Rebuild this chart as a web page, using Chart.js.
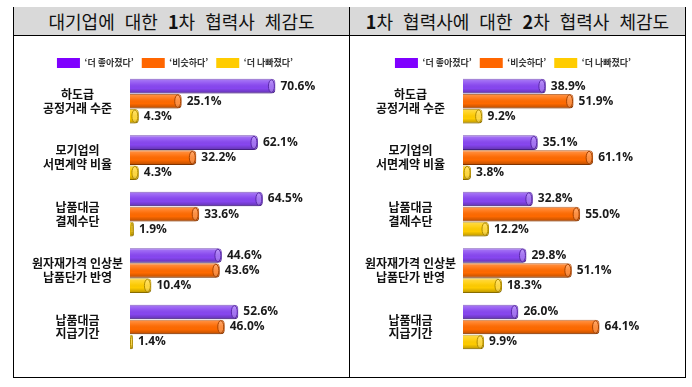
<!DOCTYPE html>
<html lang="ko">
<head>
<meta charset="utf-8">
<script src="https://cdn.jsdelivr.net/npm/chart.js@4"></script>
<style>
  html, body { margin: 0; padding: 0; background: #fff; }
  body { width: 692px; height: 387px; position: relative; overflow: hidden; }
  .frame { position: absolute; left: 13px; top: 7px; width: 671px; height: 369px; border: 1px solid #000; }
  .head { position: absolute; top: 7px; height: 28px; background: #d9d9d9; border-bottom: 1px solid #000;
          font: 400 18px "Noto Sans CJK KR", sans-serif; word-spacing: 5px; color: #111;
          text-align: center; line-height: 28px; white-space: nowrap; }
  .head b { font-weight: 700; }
  .divider { position: absolute; left: 349px; top: 7px; width: 1px; height: 370px; background: #000; }
  .box { position: absolute; top: 36px; height: 340px; }
</style>
</head>
<body>
<div class="frame"></div>
<div class="head" style="left:14px;width:335px;">대기업에 대한 <b>1</b>차 협력사 체감도</div>
<div class="head" style="left:350px;width:335px;"><b>1</b>차 협력사에 대한 <b>2</b>차 협력사 체감도</div>
<div class="divider"></div>
<div class="box" style="left:14px;width:335px;"><canvas id="leftChart" width="335" height="340"></canvas></div>
<div class="box" style="left:350px;width:335px;"><canvas id="rightChart" width="335" height="340"></canvas></div>
<script>
'use strict';

const CATEGORIES = [
    ['하도급', '공정거래 수준'],
    ['모기업의', '서면계약 비율'],
    ['납품대금', '결제수단'],
    ['원자재가격 인상분', '납품단가 반영'],
    ['납품대금', '지급기간'],
];
const SERIES = ['‘더 좋아졌다’', '‘비슷하다’', '‘더 나빠졌다’'];

// 대기업에 대한 1차 협력사 체감도
const TIER1_BETTER = [70.6, 62.1, 64.5, 44.6, 52.6];
const TIER1_SAME   = [25.1, 32.2, 33.6, 43.6, 46.0];
const TIER1_WORSE  = [4.3, 4.3, 1.9, 10.4, 1.4];

// 1차 협력사에 대한 2차 협력사 체감도
const TIER2_BETTER = [38.9, 35.1, 32.8, 29.8, 26.0];
const TIER2_SAME   = [51.9, 61.1, 55.0, 51.1, 64.1];
const TIER2_WORSE  = [9.2, 3.8, 12.2, 18.3, 9.9];

const FILLS   = ['#8746f0', '#ff6a00', '#ffcc00'];
const EDGES   = ['#5a2aa8', '#a84300', '#b08c00'];
const LEGENDS = ['#7f00ff', '#ff6600', '#ffcc00'];

const KR_FONT = '"Noto Sans CJK KR", sans-serif';

/* ── pull the plot a bit closer to the legend ───────── */
const legendGap = {
    id: 'legendGap',
    beforeInit(chart) {
        const fit = chart.legend.fit;
        chart.legend.fit = function () {
            fit.call(this);
            this.height -= 5;
        };
    }
};

/* ── cylinder shading over each bar ─────────────────── */
const cylinder = {
    id: 'cylinder',
    afterDatasetsDraw(chart) {
        const ctx = chart.ctx;
        chart.data.datasets.forEach((ds, i) => {
            chart.getDatasetMeta(i).data.forEach(bar => {
                const x0 = bar.base, x1 = bar.x, h = bar.height, y0 = bar.y - h / 2;
                if (x1 - x0 < 1) return;
                const r = Math.min(4, (x1 - x0) / 2);
                ctx.save();
                ctx.beginPath();
                ctx.roundRect(x0, y0, x1 - x0, h, [0, r, r, 0]);
                ctx.clip();
                const g = ctx.createLinearGradient(0, y0, 0, y0 + h);
                g.addColorStop(0, 'rgba(255,255,255,0.30)');
                g.addColorStop(0.35, 'rgba(255,255,255,0.08)');
                g.addColorStop(0.65, 'rgba(0,0,0,0)');
                g.addColorStop(1, 'rgba(0,0,0,0.28)');
                ctx.fillStyle = g;
                ctx.fillRect(x0, y0, x1 - x0, h);
                // end cap
                ctx.beginPath();
                ctx.ellipse(x1 - r, bar.y, Math.max(r - 1, 1), h / 2 - 1, 0, 0, Math.PI * 2);
                ctx.fillStyle = 'rgba(255,255,255,0.25)';
                ctx.fill();
                ctx.strokeStyle = EDGES[i];
                ctx.lineWidth = 1;
                ctx.stroke();
                ctx.restore();
            });
        });
    }
};

/* ── value labels after bar ends ────────────────────── */
const valueLabels = {
    id: 'valueLabels',
    afterDatasetsDraw(chart) {
        const ctx = chart.ctx;
        ctx.save();
        ctx.font = 'bold 12px "Open Sans", sans-serif';
        ctx.fillStyle = '#1a1a1a';
        ctx.textAlign = 'left';
        ctx.textBaseline = 'middle';
        chart.data.datasets.forEach((ds, i) => {
            chart.getDatasetMeta(i).data.forEach((bar, j) => {
                ctx.fillText(ds.data[j].toFixed(1) + '%', bar.x + 5, bar.y);
            });
        });
        ctx.restore();
    }
};

function makeChart(id, better, same, worse, axisWidth, padRight) {
    const sets = [better, same, worse].map((data, i) => ({
        label: SERIES[i],
        data: data,
        backgroundColor: FILLS[i],
        borderColor: EDGES[i],
        borderWidth: 1,
        borderRadius: 4,
        borderSkipped: 'start',
        categoryPercentage: 0.8,
        barPercentage: 0.97,
    }));

    new Chart(document.getElementById(id), {
        type: 'bar',
        data: { labels: CATEGORIES, datasets: sets },
        plugins: [legendGap, cylinder, valueLabels],
        options: {
            indexAxis: 'y',
            responsive: false,
            animation: false,
            layout: { padding: { top: 14, right: padRight, bottom: 9, left: 0 } },
            plugins: {
                tooltip: { enabled: false },
                legend: {
                    position: 'top',
                    labels: {
                        boxWidth: 23,
                        boxHeight: 10,
                        padding: 8,
                        color: '#333',
                        font: { family: KR_FONT, size: 9, weight: 'bold' },
                        generateLabels: chart => Chart.defaults.plugins.legend.labels.generateLabels(chart)
                            .map(l => ({ ...l, lineWidth: 0, fillStyle: LEGENDS[l.datasetIndex] })),
                    },
                },
            },
            scales: {
                x: { display: false, min: 0, max: 100 },
                y: {
                    grid: { display: false, drawTicks: false },
                    border: { display: false },
                    afterFit: scale => { scale.width = axisWidth; },
                    ticks: {
                        crossAlign: 'center',
                        padding: 7,
                        color: '#111',
                        font: { family: KR_FONT, size: 12, weight: 'bold', lineHeight: 1.15 },
                    },
                },
            },
        },
    });
}

makeChart('leftChart', TIER1_BETTER, TIER1_SAME, TIER1_WORSE, 116, 13);
makeChart('rightChart', TIER2_BETTER, TIER2_SAME, TIER2_WORSE, 113, 9);
</script>
</body>
</html>
